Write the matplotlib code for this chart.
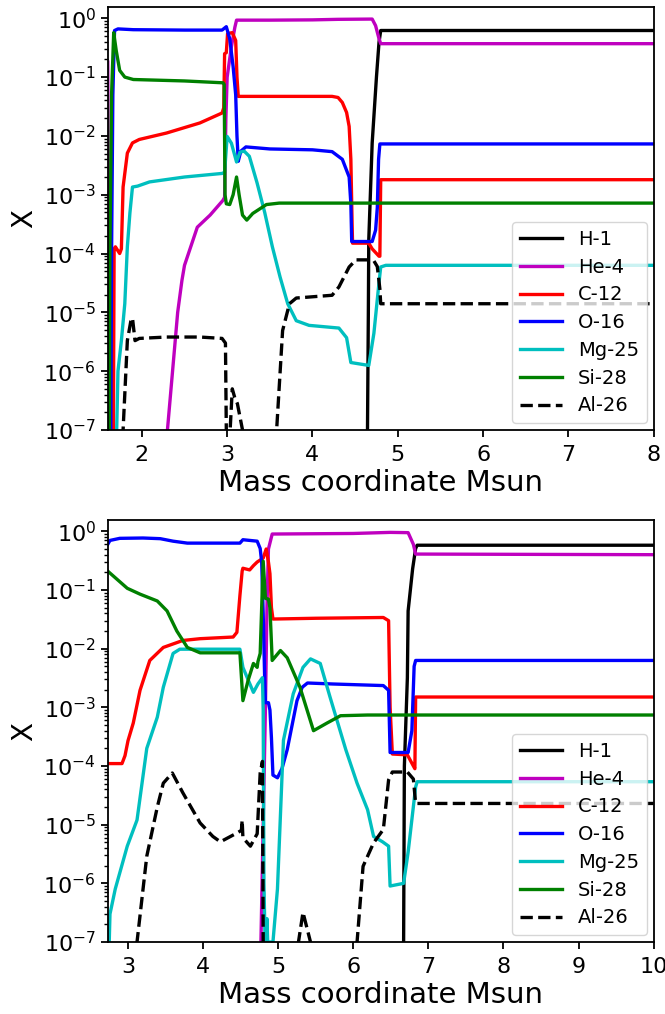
import matplotlib
matplotlib.use("Agg")
import matplotlib.pyplot as plt
from matplotlib.ticker import LogLocator, NullFormatter

# ---- top panel (x from 1.6 to 8) ----
top_h1_x = [1.6, 4.64, 4.645, 4.655, 4.66, 4.70, 4.75, 4.78, 4.80, 8.0]
top_h1_y = [1e-12, 1e-12, 1e-7, 1e-5, 1.7e-4, 7.6e-3, 0.1, 0.39, 0.62, 0.62]

top_he4_x = [1.6, 1.607, 1.615, 2.29, 2.30, 2.36, 2.42, 2.47, 2.50, 2.65, 2.80, 2.95, 2.97,
             2.985, 3.00, 3.05, 3.09, 3.11, 3.5, 4.0, 4.3, 4.70, 4.74, 4.78, 4.80, 8.0]
top_he4_y = [0.18, 1e-3, 1e-9, 1e-9, 1e-7, 1e-6, 1e-5, 3.5e-5, 6.3e-5, 2.8e-4, 4.5e-4, 8e-4, 9e-4,
             0.02, 0.1, 0.33, 0.7, 0.93, 0.93, 0.94, 0.96, 0.97, 0.75, 0.45, 0.37, 0.37]

top_c12_x = [1.6, 1.66, 1.675, 1.69, 1.74, 1.76, 1.78, 1.83, 1.89, 1.97, 2.29, 2.68, 2.94, 2.96,
             2.97, 2.99, 3.005, 3.06, 3.10, 3.115, 3.13, 4.23, 4.30, 4.35, 4.40, 4.43, 4.45,
             4.465, 4.47, 4.66, 4.70, 4.78, 4.79, 4.80, 8.0]
top_c12_y = [1e-9, 1e-9, 1.2e-4, 1.3e-4, 1.0e-4, 1.2e-4, 1.35e-3, 5.1e-3, 7.6e-3, 8.7e-3, 1.12e-2,
             1.66e-2, 2.45e-2, 3e-2, 0.25, 0.26, 0.55, 0.57, 0.42, 0.1, 0.047, 0.047, 0.045, 0.037,
             0.025, 0.0145, 4e-3, 3e-4, 1.5e-4, 1.5e-4, 1.2e-4, 9e-5, 9e-5, 1.8e-3, 1.8e-3]

top_o16_x = [1.6, 1.63, 1.645, 1.66, 1.68, 1.72, 1.9, 2.5, 2.94, 2.99, 3.03, 3.07, 3.10, 3.115,
             3.13, 3.16, 3.22, 3.5, 4.0, 4.23, 4.35, 4.43, 4.45, 4.46, 4.70, 4.74, 4.76, 4.775,
             4.79, 8.0]
top_o16_y = [1e-9, 1e-9, 1e-4, 0.05, 0.62, 0.66, 0.64, 0.63, 0.63, 0.72, 0.45, 0.15, 0.05, 0.01,
             0.0037, 0.0055, 0.0065, 0.006, 0.0058, 0.0054, 0.004, 0.002, 7e-4, 1.6e-4, 1.6e-4,
             2.5e-4, 6e-4, 4e-3, 7.3e-3, 7.3e-3]

top_mg25_x = [1.6, 1.70, 1.705, 1.72, 1.76, 1.80, 1.83, 1.86, 1.89, 1.95, 2.09, 2.5, 2.94, 2.97,
              3.0, 3.05, 3.11, 3.15, 3.2, 3.26, 3.35, 3.44, 3.53, 3.62, 3.71, 3.81, 3.96, 4.31,
              4.40, 4.45, 4.66, 4.72, 4.78, 4.80, 4.86, 8.0]
top_mg25_y = [1e-9, 1e-9, 1e-7, 1e-6, 3.3e-6, 1.4e-5, 1.3e-4, 4.9e-4, 1.35e-3, 1.4e-3, 1.65e-3,
              2.0e-3, 2.3e-3, 2.4e-3, 0.0098, 0.0075, 0.0036, 0.0053, 0.0055, 0.0045, 1.6e-3,
              5e-4, 1.3e-4, 4e-5, 1.4e-5, 7.2e-6, 6e-6, 5.4e-6, 3.7e-6, 1.4e-6, 1.25e-6, 4.4e-6,
              3.2e-5, 5.9e-5, 6.3e-5, 6.3e-5]

top_si28_x = [1.6, 1.615, 1.625, 1.645, 1.67, 1.70, 1.74, 1.80, 1.9, 2.5, 2.95, 2.965, 2.975,
              2.99, 3.03, 3.07, 3.11, 3.14, 3.18, 3.23, 3.3, 3.46, 3.61, 8.0]
top_si28_y = [1e-9, 1e-9, 1e-4, 0.05, 0.57, 0.28, 0.13, 0.1, 0.091, 0.086, 0.08, 0.075, 1e-3,
              7e-4, 6.8e-4, 1e-3, 2e-3, 1e-3, 4.5e-4, 3.7e-4, 4.8e-4, 6.8e-4, 7.2e-4, 7.2e-4]

top_al26_x = [1.6, 1.775, 1.78, 1.83, 1.87, 1.89, 1.92, 1.97, 2.29, 2.68, 2.94, 2.98, 2.99, 2.995,
              3.03, 3.035, 3.06, 3.09, 3.12, 3.18, 3.185, 3.575, 3.58, 3.65, 3.73, 3.81, 4.23,
              4.31, 4.43, 4.51, 4.66, 4.72, 4.76, 4.79, 4.80, 8.0]
top_al26_y = [1e-9, 1e-9, 1e-7, 3.3e-6, 7e-6, 8e-6, 3.3e-6, 3.6e-6, 3.8e-6, 3.8e-6, 3.6e-6, 3e-6,
              1e-7, 1e-9, 1e-9, 1e-7, 5e-7, 3.5e-7, 2.8e-7, 1e-7, 1e-9, 1e-9, 1e-7, 4.9e-6,
              1.4e-5, 1.75e-5, 1.95e-5, 2.7e-5, 5.9e-5, 7.8e-5, 7.8e-5, 7.5e-5, 6e-5, 2.5e-5,
              1.4e-5, 1.4e-5]

# ---- bottom panel (x from 2.73 to 10) ----
bot_h1_x = [2.73, 6.665, 6.67, 6.68, 6.72, 6.73, 6.79, 6.83, 6.85, 10.0]
bot_h1_y = [1e-12, 1e-12, 1e-7, 1e-4, 3.2e-3, 0.044, 0.23, 0.51, 0.58, 0.58]

bot_he4_x = [2.73, 4.76, 4.77, 4.80, 4.83, 4.85, 4.87, 4.92, 6.0, 6.49, 6.73, 6.80, 6.83, 10.0]
bot_he4_y = [1e-12, 1e-9, 1e-7, 1e-5, 1e-3, 0.05, 0.5, 0.9, 0.92, 0.96, 0.95, 0.6, 0.41, 0.4]

bot_c12_x = [2.73, 2.92, 2.96, 3.0, 3.07, 3.16, 3.29, 3.47, 3.73, 3.96, 4.40, 4.45, 4.49, 4.52,
             4.53, 4.62, 4.67, 4.72, 4.80, 4.84, 4.87, 4.89, 4.91, 4.93, 5.5, 6.40, 6.47, 6.49,
             6.52, 6.72, 6.80, 6.82, 6.83, 10.0]
bot_c12_y = [1.1e-4, 1.1e-4, 1.5e-4, 2.7e-4, 5.4e-4, 1.95e-3, 6.3e-3, 1.05e-2, 1.38e-2, 1.48e-2,
             1.58e-2, 1.9e-2, 0.08, 0.21, 0.235, 0.22, 0.26, 0.3, 0.35, 0.5, 0.3, 0.19, 0.05,
             0.032, 0.033, 0.034, 0.03, 1e-3, 1.6e-4, 1.55e-4, 1e-4, 9e-5, 1.5e-3, 1.5e-3]

bot_o16_x = [2.73, 2.76, 2.89, 3.2, 3.43, 3.6, 3.79, 4.49, 4.53, 4.72, 4.76, 4.78, 4.80, 4.82,
             4.83, 4.87, 4.89, 4.91, 4.93, 4.99, 5.05, 5.12, 5.25, 5.32, 5.39, 5.73, 6.40, 6.47,
             6.49, 6.73, 6.78, 6.81, 6.83, 10.0]
bot_o16_y = [0.6, 0.7, 0.76, 0.77, 0.75, 0.68, 0.63, 0.63, 0.72, 0.68, 0.51, 0.3, 0.04, 3e-3,
             1.2e-3, 1.2e-3, 9e-4, 3e-4, 7e-5, 6.3e-5, 9e-5, 1.9e-4, 1.3e-3, 2.2e-3, 2.6e-3,
             2.5e-3, 2.35e-3, 1.95e-3, 1.7e-4, 1.7e-4, 4e-4, 5e-3, 6.3e-3, 6.3e-3]

bot_mg25_x = [2.73, 2.75, 2.76, 2.83, 2.99, 3.12, 3.25, 3.39, 3.47, 3.6, 3.69, 4.49, 4.53, 4.67,
              4.73, 4.79, 4.80, 4.81, 4.83, 4.85, 4.86, 4.93, 4.99, 5.07, 5.2, 5.33, 5.43, 5.56,
              5.69, 5.9, 6.05, 6.19, 6.27, 6.39, 6.47, 6.49, 6.67, 6.73, 6.83, 6.85, 10.0]
bot_mg25_y = [1e-9, 1e-7, 3e-7, 8e-7, 4.3e-6, 1.2e-5, 2e-4, 6.8e-4, 2.2e-3, 8.3e-3, 0.0098,
              0.0098, 4.8e-3, 1.8e-3, 2.5e-3, 3.2e-3, 9e-4, 1e-6, 5e-8, 2.5e-7, 1e-7, 1e-7, 8e-7,
              2.75e-4, 1.7e-3, 4.8e-3, 6.7e-3, 5.6e-3, 1.5e-3, 1.9e-4, 5.1e-5, 1.8e-5, 6.3e-6,
              5.1e-6, 4.3e-6, 9e-7, 1e-6, 3.4e-6, 4.4e-5, 5.4e-5, 5.4e-5]

bot_si28_x = [2.73, 2.99, 3.16, 3.39, 3.52, 3.65, 3.79, 3.96, 4.49, 4.53, 4.60, 4.67, 4.72, 4.73,
              4.76, 4.80, 4.83, 4.87, 4.89, 4.92, 5.03, 5.12, 5.29, 5.47, 5.65, 5.83, 6.19, 10.0]
bot_si28_y = [0.21, 0.107, 0.085, 0.065, 0.044, 0.02, 0.0105, 0.0085, 0.0085, 1.3e-3, 2.9e-3,
              5.6e-3, 4.8e-3, 6e-3, 8.3e-3, 0.31, 0.072, 0.07, 0.05, 6.3e-3, 9.3e-3, 7e-3, 2.2e-3,
              4e-4, 5.4e-4, 7.2e-4, 7.4e-4, 7.4e-4]

bot_al26_x = [2.73, 3.11, 3.12, 3.25, 3.39, 3.47, 3.59, 3.73, 3.96, 4.13, 4.23, 4.45, 4.51, 4.52,
              4.53, 4.59, 4.63, 4.72, 4.76, 4.79, 4.80, 4.805, 5.26, 5.27, 5.33, 5.43, 5.435,
              6.04, 6.05, 6.13, 6.27, 6.40, 6.47, 6.52, 6.72, 6.80, 6.83, 10.0]
bot_al26_y = [1e-9, 1e-9, 1e-7, 2.9e-6, 2e-5, 5.1e-5, 7.6e-5, 3.5e-5, 1.07e-5, 6.3e-6, 5.1e-6,
              7.2e-6, 8e-6, 1.2e-5, 6e-6, 4.9e-6, 4.3e-6, 7e-6, 7.6e-5, 1.2e-4, 1e-7, 1e-9, 1e-9,
              1e-7, 3.2e-7, 1e-7, 1e-9, 1e-9, 1e-7, 1.95e-6, 4.9e-6, 8.3e-6, 5.8e-5, 7.9e-5,
              7.9e-5, 6e-5, 2.3e-5, 2.3e-5]

species = ["H-1", "He-4", "C-12", "O-16", "Mg-25", "Si-28", "Al-26"]
styles = ["k-", "m-", "r-", "b-", "c-", "g-", "k--"]

top_series = [(top_h1_x, top_h1_y), (top_he4_x, top_he4_y), (top_c12_x, top_c12_y),
              (top_o16_x, top_o16_y), (top_mg25_x, top_mg25_y), (top_si28_x, top_si28_y),
              (top_al26_x, top_al26_y)]
bot_series = [(bot_h1_x, bot_h1_y), (bot_he4_x, bot_he4_y), (bot_c12_x, bot_c12_y),
              (bot_o16_x, bot_o16_y), (bot_mg25_x, bot_mg25_y), (bot_si28_x, bot_si28_y),
              (bot_al26_x, bot_al26_y)]


def draw_panel(ax, series, xlim):
    for (xs, ys), label, style in zip(series, species, styles):
        ax.plot(xs, ys, style, linewidth=2.4, label=label)
    ax.set_yscale("log")
    ax.set_xlim(*xlim)
    ax.set_ylim(1e-7, 1.55)
    ax.yaxis.set_major_locator(LogLocator(base=10, numticks=12))
    ax.yaxis.set_minor_locator(LogLocator(base=10, subs=range(2, 10), numticks=12))
    ax.yaxis.set_minor_formatter(NullFormatter())
    ax.set_xlabel("Mass coordinate Msun", fontsize=21, labelpad=3)
    ax.set_ylabel("X", fontsize=20)
    ax.tick_params(axis="both", which="major", labelsize=16, width=1.3, length=5)
    ax.tick_params(axis="x", which="major", pad=6)
    ax.tick_params(axis="both", which="minor", width=1.0, length=3)
    for spine in ax.spines.values():
        spine.set_linewidth(1.3)
    ax.legend(loc="lower right", fontsize=14, labelspacing=0.45, handlelength=2.2,
              borderaxespad=0.35)


fig = plt.figure(figsize=(6.65, 10.14), dpi=100)
ax_top = fig.add_axes([0.162, 0.576, 0.821, 0.417])
ax_bot = fig.add_axes([0.162, 0.071, 0.821, 0.416])
draw_panel(ax_top, top_series, (1.6, 8.0))
draw_panel(ax_bot, bot_series, (2.73, 10.0))

fig.savefig("out.png", dpi=100)
